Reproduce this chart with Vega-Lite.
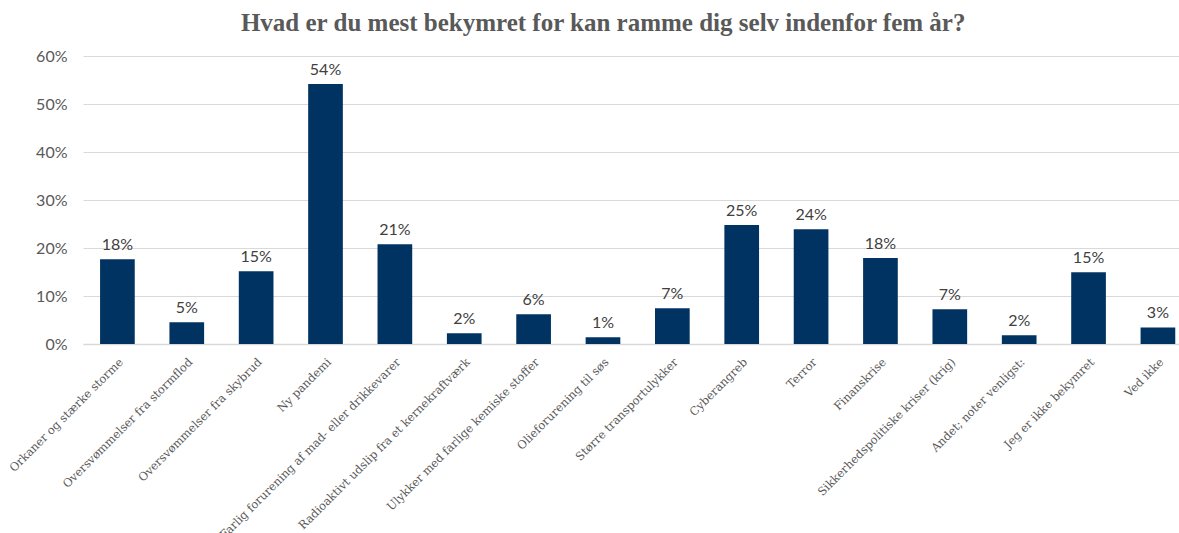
{
  "$schema": "https://vega.github.io/schema/vega-lite/v6.json",
  "autosize": {"type": "none"},
  "width": 1096,
  "height": 288,
  "padding": {"left": 83, "top": 56, "right": 0, "bottom": 189},
  "background": "white",
  "title": {
    "text": "Hvad er du mest bekymret for kan ramme dig selv indenfor fem år?",
    "font": "Liberation Serif",
    "fontSize": 25,
    "fontWeight": "bold",
    "color": "#595959",
    "anchor": "middle",
    "frame": "bounds",
    "offset": 12,
    "dx": 10
  },
  "data": {
    "values": [
      {"kategori": "Orkaner og stærke storme", "andel": 0.1765},
      {"kategori": "Oversvømmelser fra stormflod", "andel": 0.0452},
      {"kategori": "Oversvømmelser fra skybrud", "andel": 0.1514},
      {"kategori": "Ny pandemi", "andel": 0.5417},
      {"kategori": "Farlig forurening af mad- eller drikkevarer", "andel": 0.2077},
      {"kategori": "Radioaktivt udslip fra et kernekraftværk", "andel": 0.0222},
      {"kategori": "Ulykker med farlige kemiske stoffer", "andel": 0.0618},
      {"kategori": "Olieforurening til søs", "andel": 0.014},
      {"kategori": "Større transportulykker", "andel": 0.0743},
      {"kategori": "Cyberangreb", "andel": 0.248},
      {"kategori": "Terror", "andel": 0.239},
      {"kategori": "Finanskrise", "andel": 0.179},
      {"kategori": "Sikkerhedspolitiske kriser (krig)", "andel": 0.0722},
      {"kategori": "Andet; noter venligst:", "andel": 0.018},
      {"kategori": "Jeg er ikke bekymret", "andel": 0.1494},
      {"kategori": "Ved ikke", "andel": 0.0345}
    ]
  },
  "encoding": {
    "x": {
      "field": "kategori",
      "type": "nominal",
      "sort": null,
      "title": null,
      "scale": {"paddingInner": 0.5, "paddingOuter": 0.15, "align": 0.82},
      "axis": {
        "labelAngle": -45,
        "labelFont": "DejaVu Serif",
        "labelFontSize": 11.5,
        "labelColor": "#595959",
        "labelPadding": 12,
        "labelLimit": 400,
        "ticks": false,
        "domain": true,
        "domainColor": "#d9d9d9",
        "domainWidth": 1.5,
        "grid": false
      }
    },
    "y": {
      "field": "andel",
      "type": "quantitative",
      "title": null,
      "scale": {"domain": [0, 0.6], "nice": false},
      "axis": {
        "values": [0, 0.1, 0.2, 0.3, 0.4, 0.5, 0.6],
        "format": ".0%",
        "labelFont": "Lato",
        "labelFontSize": 16,
        "labelColor": "#595959",
        "labelPadding": 16,
        "ticks": false,
        "domain": false,
        "grid": true,
        "gridColor": "#d9d9d9",
        "gridWidth": 1.2
      }
    }
  },
  "layer": [
    {"mark": {"type": "bar", "color": "#003361"}},
    {
      "mark": {"type": "text", "font": "Lato", "fontSize": 16, "color": "#404040", "baseline": "alphabetic", "dy": -9},
      "encoding": {"text": {"field": "andel", "type": "quantitative", "format": ".0%"}}
    }
  ],
  "config": {"view": {"stroke": null}}
}
